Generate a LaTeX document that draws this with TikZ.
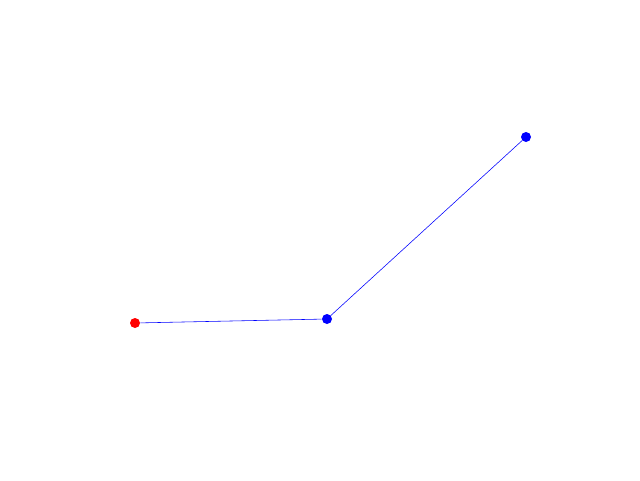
\documentclass[tikz,border=0pt]{standalone}
\usepackage{tikz}

\tikzset{
  dot/.style={circle, inner sep=0pt, minimum size=0.25cm},
}

\begin{document}
\begin{tikzpicture}
% Canvas
\useasboundingbox (0,0) rectangle (16,12);

% Points
\node[dot, fill=red] (start) at (3.375,3.925) {};
\node[dot, fill=blue] (mid) at (8.175,4.025) {};
\node[dot, fill=blue] (top) at (13.15,8.575) {};

% Path segments
\draw[blue, line width=0.4pt] (start) -- (mid);
\draw[blue, line width=0.4pt] (mid) -- (top);
\end{tikzpicture}
\end{document}
